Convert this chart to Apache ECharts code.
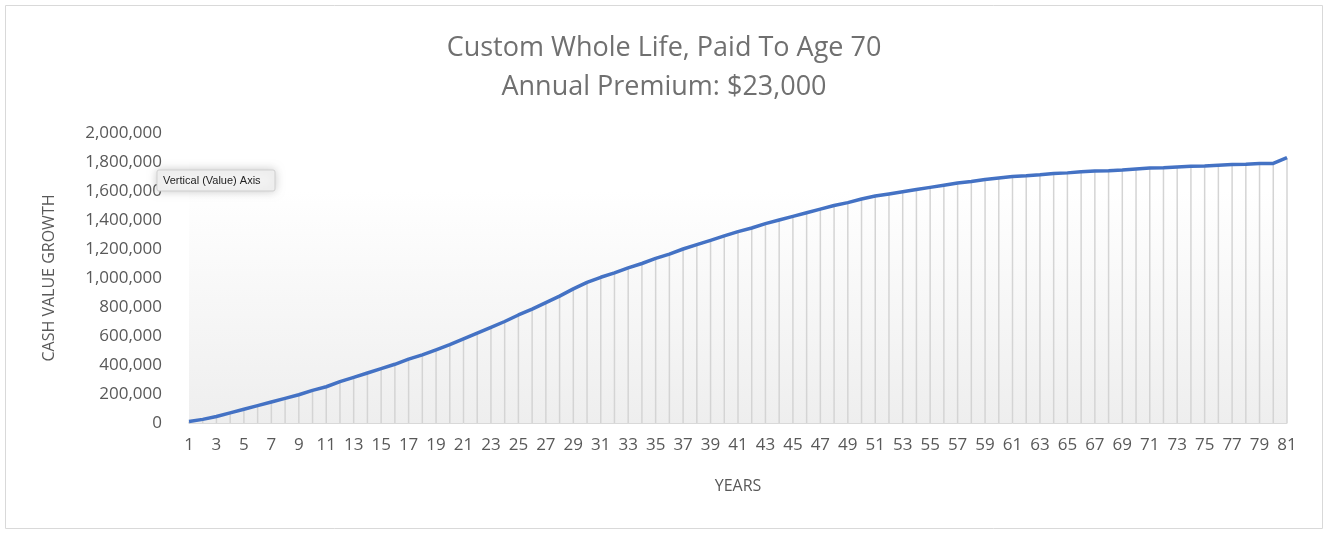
<!DOCTYPE html>
<html><head><meta charset="utf-8">
<script src="https://cdn.jsdelivr.net/npm/echarts@6/dist/echarts.min.js"></script>
<style>html,body{margin:0;padding:0;background:#fff}#c{width:1328px;height:534px}</style>
</head><body><div id="c"></div>
<script>
const years = Array.from({length:81},(_,i)=>String(i+1));
const cashValue = [10000,25000,45000,70000,95000,120000,145000,170000,195000,225000,
250000,285000,315000,345000,375000,405000,440000,470000,505000,540000,
580000,620000,660000,700000,745000,785000,830000,875000,925000,970000,
1005000,1035000,1070000,1100000,1135000,1165000,1200000,1230000,1260000,1290000,
1320000,1345000,1375000,1400000,1425000,1450000,1475000,1500000,1520000,1545000,
1565000,1580000,1595000,1610000,1625000,1640000,1655000,1665000,1680000,1690000,
1700000,1705000,1712000,1720000,1725000,1732000,1738000,1740000,1745000,1752000,
1758000,1760000,1765000,1770000,1772000,1778000,1782000,1785000,1790000,1790000,1830000];
const chart = echarts.init(document.getElementById('c'));
const txt = '#595959';
chart.setOption({
  animation:false,
  title:{text:'Custom Whole Life, Paid To Age 70\nAnnual Premium: $23,000',left:'center',top:24,
    textStyle:{fontFamily:'Open Sans',fontSize:27,fontWeight:'normal',color:'#707070',lineHeight:39}},
  grid:{left:189,right:41,top:133,bottom:111,show:true,borderWidth:0,
    backgroundColor:new echarts.graphic.LinearGradient(0,0,0,1,[{offset:0,color:'#ffffff'},{offset:0.2,color:'#ffffff'},{offset:1,color:'#eeeeee'}])},
  xAxis:{type:'category',data:years,boundaryGap:false,
    name:'YEARS',nameLocation:'middle',nameGap:55,nameTextStyle:{fontFamily:'Open Sans',fontSize:16,color:txt},
    axisLine:{lineStyle:{color:'#d9d9d9',width:1}},axisTick:{show:false},
    axisLabel:{interval:1,fontFamily:'Open Sans',fontSize:17,color:txt,margin:14}},
  yAxis:{type:'value',min:0,max:2000000,interval:200000,
    name:'CASH VALUE GROWTH',nameLocation:'middle',nameGap:132,nameTextStyle:{fontFamily:'Open Sans',fontSize:16,color:txt},
    axisLine:{show:false},axisTick:{show:false},splitLine:{show:false},
    axisLabel:{fontFamily:'Open Sans',fontSize:17,color:txt,margin:27,
      formatter:v=>v.toLocaleString('en-US')}},
  series:[
    {type:'bar',data:cashValue,barWidth:1.5,itemStyle:{color:'#d4d4d4'},silent:true,z:1},
    {type:'line',data:cashValue,showSymbol:false,lineStyle:{color:'#4472c4',width:3.5},z:3}
  ],
  graphic:[
    {type:'rect',shape:{x:5.5,y:5.5,width:1317,height:523},style:{fill:'none',stroke:'#d9d9d9',lineWidth:1},silent:true},
    {type:'rect',shape:{x:157,y:170,width:118,height:21,r:2},style:{fill:'#f2f2f2',stroke:'#cfcfcf',lineWidth:1,shadowBlur:10,shadowColor:'rgba(0,0,0,0.2)'},z:100},
    {type:'text',x:163,y:175,style:{text:'Vertical (Value) Axis',fontFamily:'Liberation Sans',fontSize:11,fill:'#222'},z:101}
  ]
});
</script></body></html>
